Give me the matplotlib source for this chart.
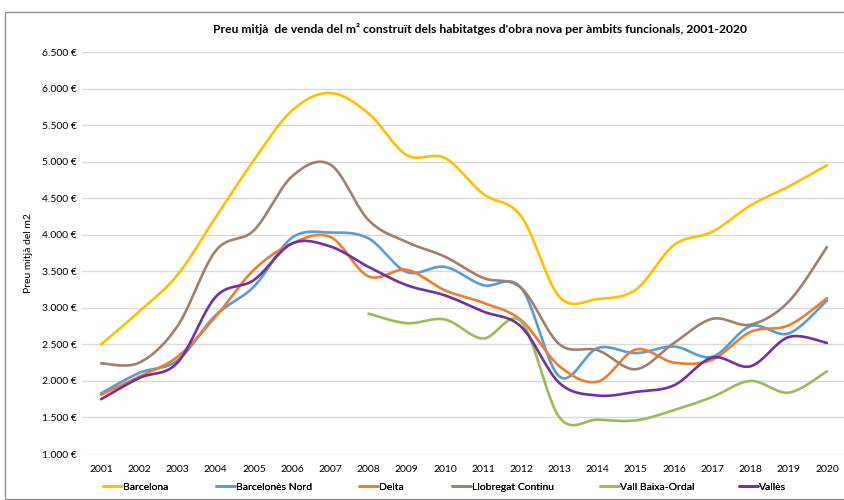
import numpy as np
import matplotlib
matplotlib.use("Agg")
import matplotlib.pyplot as plt
from matplotlib.patches import Rectangle
from matplotlib.ticker import FuncFormatter

plt.rcParams['font.family'] = ['Lato', 'DejaVu Sans']

years = [str(y) for y in range(2001, 2021)]

barcelona = [2500, 2950, 3450, 4240, 5020, 5700, 5940, 5660, 5090, 5050,
             4560, 4250, 3150, 3120, 3250, 3860, 4040, 4400, 4660, 4950]
barcelones_nord = [1830, 2110, 2280, 2900, 3290, 3960, 4030, 3950, 3490, 3560,
                   3310, 3270, 2060, 2450, 2380, 2470, 2330, 2750, 2650, 3100]
delta = [1810, 2060, 2330, 2880, 3520, 3880, 3970, 3430, 3520, 3240,
         3070, 2830, 2200, 1990, 2430, 2250, 2290, 2670, 2760, 3130]
llobregat = [2240, 2250, 2750, 3780, 4060, 4800, 4960, 4200, 3900, 3700,
             3410, 3270, 2500, 2420, 2160, 2520, 2850, 2770, 3085, 3830]
vall_baixa = [None, None, None, None, None, None, None, 2920, 2790, 2840,
              2580, 2810, 1500, 1470, 1460, 1600, 1780, 2000, 1840, 2130]
valles = [1750, 2040, 2250, 3150, 3380, 3880, 3840, 3560, 3310, 3170,
          2950, 2740, 1970, 1800, 1850, 1940, 2320, 2200, 2600, 2520]

series = [
    ("Barcelona", barcelona, "#FFC000"),
    ("Barcelonès Nord", barcelones_nord, "#5B9BD5"),
    ("Delta", delta, "#ED7D31"),
    ("Llobregat Continu", llobregat, "#A0806A"),
    ("Vall Baixa-Ordal", vall_baixa, "#9BBB59"),
    ("Vallès", valles, "#7030A0"),
]

legend_x_px = [103, 216, 359, 452, 600, 739]


def smooth(xs, ys, n=24):
    xs = np.asarray(xs, float)
    ys = np.asarray(ys, float)
    P = np.column_stack([xs, ys])
    out = [P[0]]
    for i in range(len(P) - 1):
        p0 = P[i - 1] if i > 0 else P[i]
        p1 = P[i]
        p2 = P[i + 1]
        p3 = P[i + 2] if i + 2 < len(P) else P[i + 1]
        c1 = p1 + (p2 - p0) / 6.0
        c2 = p2 - (p3 - p1) / 6.0
        t = np.linspace(0, 1, n)[1:, None]
        b = ((1 - t) ** 3) * p1 + 3 * ((1 - t) ** 2) * t * c1 + 3 * (1 - t) * t ** 2 * c2 + t ** 3 * p2
        out.extend(b)
    out = np.array(out)
    return out[:, 0], out[:, 1]


fig = plt.figure(figsize=(8.45, 5.0), dpi=100)
ax = fig.add_axes([82 / 845, 1 - 454 / 500, (846 - 82) / 845, (454 - 52) / 500])

x_idx = np.arange(1, len(years) + 1)
handles = []
for name, vals, col in series:
    xv = [x for x, v in zip(x_idx, vals) if v is not None]
    yv = [v for v in vals if v is not None]
    sx, sy = smooth(xv, yv)
    h, = ax.plot(sx, sy, color=col, lw=1.9, solid_capstyle='round', label=name)
    handles.append(h)

ax.set_xlim(0.5, len(years) + 0.5)
ax.set_ylim(1000, 6500)
ax.set_yticks(np.arange(1000, 6501, 500))
ax.yaxis.set_major_formatter(FuncFormatter(lambda v, p: f"{int(v):,}".replace(",", ".") + " €"))
ax.set_xticks(x_idx)
ax.set_xticklabels(years)
ax.grid(axis='y', color='#D9D9D9', lw=1.0)
ax.set_axisbelow(True)
for s in ax.spines.values():
    s.set_visible(False)
ax.tick_params(axis='both', length=0, labelsize=7.5, colors='#000000')
ax.tick_params(axis='x', pad=8)
ax.tick_params(axis='y', pad=4)
ax.set_ylabel("Preu mitjà del m2", fontsize=7.5, labelpad=6)

fig.text(480 / 845, 1 - 29 / 500, "Preu mitjà  de venda del m² construït dels habitatges d'obra nova per àmbits funcionals, 2001-2020",
         ha='center', va='center', fontsize=8.7, fontweight='bold')

for h, lx in zip(handles, legend_x_px):
    lg = fig.legend(handles=[h], loc='center left', bbox_to_anchor=(lx / 845, 1 - 487 / 500),
                    frameon=False, fontsize=7.5, handlelength=1.8, handletextpad=0.12,
                    borderaxespad=0, borderpad=0)
    fig.add_artist(lg)

fig.patches.append(Rectangle((5 / 845, 0.002), 1.2, 1 - 12 / 500 - 0.002, transform=fig.transFigure,
                             fill=False, edgecolor='#8C8C8C', lw=0.9))

fig.savefig("out.png", dpi=100)
